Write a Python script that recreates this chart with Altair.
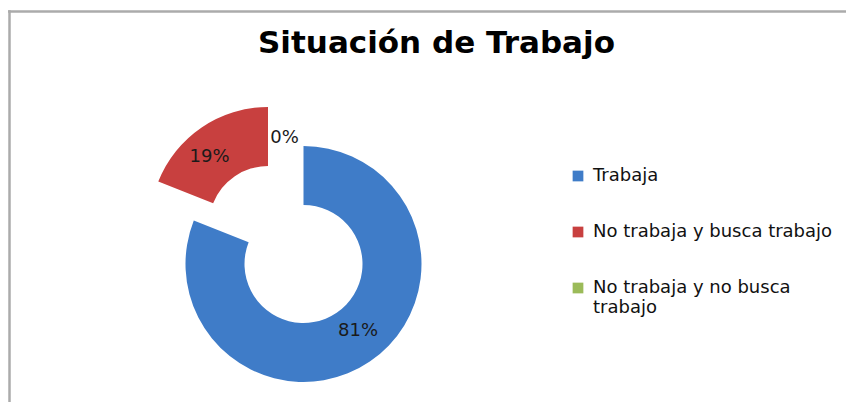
import altair as alt
import pandas as pd

# ---- data ----
categories = ["Trabaja", "No trabaja y busca trabajo", "No trabaja y no busca trabajo"]
values = [81, 19, 0]
labels = ["81%", "19%", "0%"]
exploded = [0, 1, 0]
colors = ["#3f7cc8", "#c8403f", "#9bbb59"]

df = pd.DataFrame({
    "cat": categories,
    "value": values,
    "label": labels,
    "order": list(range(len(categories))),
    "exploded": exploded,
})

# ---- layout ----
W, H = 838, 394
CX, CY = 295.5, 256       # donut centre
EX, EY = 260, 217         # centre of the pulled-out slice
R_OUT, R_IN = 118, 59
FONT = "DejaVu Sans"

base = (
    alt.Chart(df)
    .transform_joinaggregate(total="sum(value)")
    .transform_window(cum="sum(value)", sort=[alt.SortField("order")], frame=[None, 0])
    .transform_calculate(
        t1="datum.cum / datum.total * 2 * PI",
        t0="(datum.cum - datum.value) / datum.total * 2 * PI",
    )
    .transform_calculate(tm="(datum.t0 + datum.t1) / 2")
)

color = alt.Color(
    "cat:N",
    scale=alt.Scale(domain=categories, range=colors),
    sort=categories,
    legend=alt.Legend(
        title=None,
        orient="none",
        legendX=561,
        legendY=159,
        symbolType="square",
        symbolSize=115,
        symbolStrokeWidth=0,
        labelFont=FONT,
        labelFontSize=18,
        labelColor="#111111",
        labelOffset=6,
        rowPadding=38,
        padding=0,
        labelLimit=500,
        labelExpr="datum.label == 'No trabaja y no busca trabajo' ? ['No trabaja y no busca', 'trabajo'] : datum.label",
    ),
)

arc_main = base.transform_filter("datum.exploded == 0").mark_arc(
    radius=R_OUT, innerRadius=R_IN
).encode(
    theta=alt.Theta("t0:Q", scale=None),
    theta2="t1:Q",
    x=alt.value(CX),
    y=alt.value(CY),
    color=color,
)

arc_explode = base.transform_filter("datum.exploded == 1").mark_arc(
    radius=R_OUT, innerRadius=R_IN
).encode(
    theta=alt.Theta("t0:Q", scale=None),
    theta2="t1:Q",
    x=alt.value(EX),
    y=alt.value(EY),
    color=color,
)

def label_layer(idx, cx, cy, r, dx=0, dy=0):
    return base.transform_filter(f"datum.order == {idx}").mark_text(
        font=FONT, fontSize=18, color="#1a1a1a", dx=dx, dy=dy
    ).encode(
        theta=alt.Theta("tm:Q", scale=None),
        radius=alt.value(r),
        x=alt.value(cx),
        y=alt.value(cy),
        text="label:N",
    )

lab81 = label_layer(0, CX, CY, 81, dx=9)
lab19 = label_layer(1, EX, EY, 88, dx=-9, dy=5)
lab0 = label_layer(2, CX, CY, 126, dx=-19)

frame_df = pd.DataFrame({"a": [0]})
frame_top = alt.Chart(frame_df).mark_rule(color="#ababab", strokeWidth=2.5).encode(
    x=alt.value(0), x2=alt.value(W + 20), y=alt.value(3.5)
)
frame_left = alt.Chart(frame_df).mark_rule(color="#ababab", strokeWidth=2.5).encode(
    x=alt.value(1.5), y=alt.value(2.3), y2=alt.value(H + 20)
)

chart = (
    alt.layer(frame_top, frame_left, arc_main, arc_explode, lab81, lab19, lab0)
    .properties(
        width=W,
        height=H,
        padding=0,
        autosize=alt.AutoSizeParams(type="none"),
        background="#ffffff",
        title=alt.TitleParams(
            text="Situación de Trabajo",
            font=FONT,
            fontSize=31,
            fontWeight="bold",
            color="#000000",
            anchor="middle",
            dx=9.5,
            offset=-52,
        ),
    )
    .configure_view(stroke=None)
)

chart.save("out.html", embed_options={"renderer": "svg", "actions": False})
